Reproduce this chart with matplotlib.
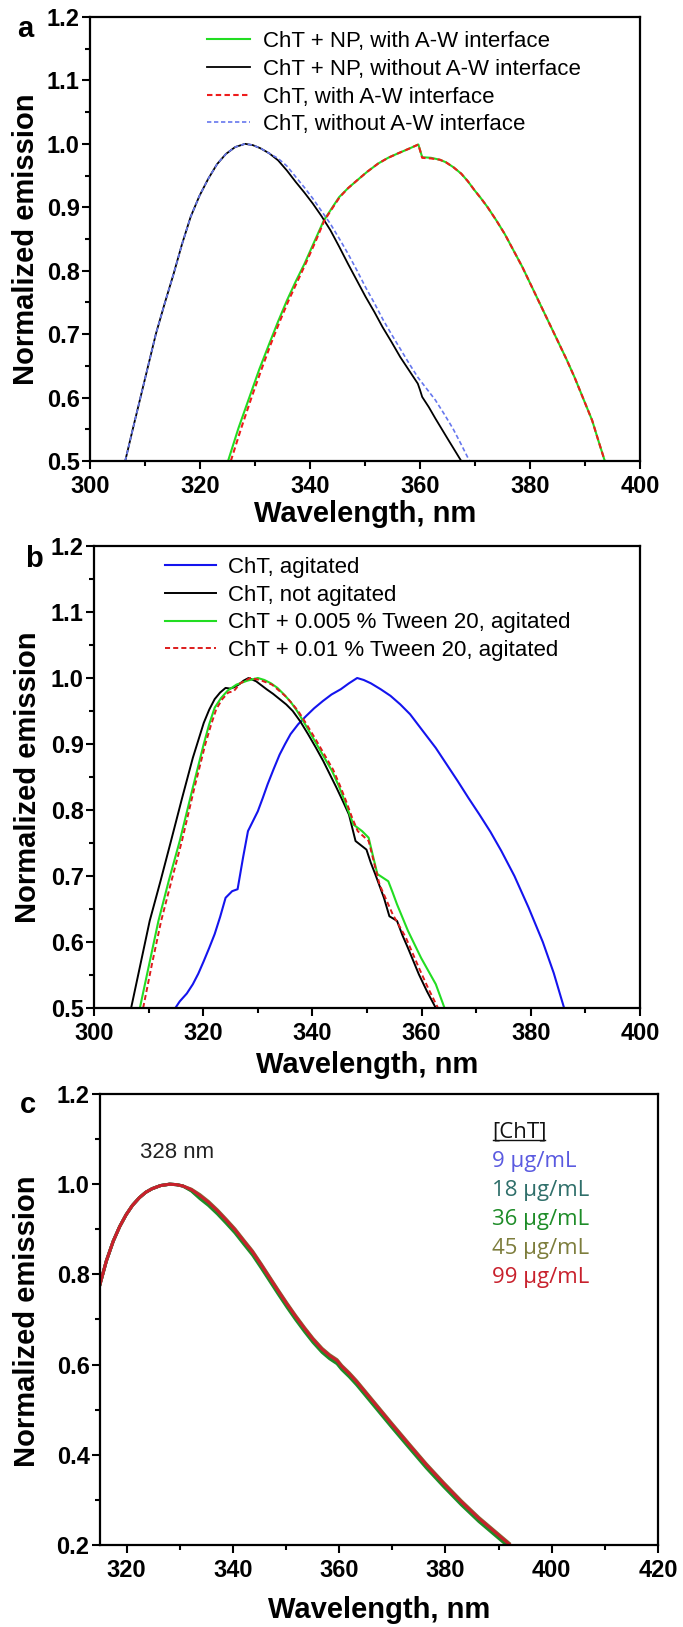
import numpy as np
import matplotlib
matplotlib.use('Agg')
import matplotlib.pyplot as plt
from matplotlib.lines import Line2D
from matplotlib.ticker import MultipleLocator, FormatStrFormatter

plt.rcParams['font.family'] = ['Liberation Sans', 'DejaVu Sans']

# ---- panel a : ChT with / without nanoparticles at the air-water interface
a_labels = ['ChT + NP, with A-W interface', 'ChT + NP, without A-W interface',
            'ChT, with A-W interface', 'ChT, without A-W interface']

a_np_aw_wl = [325.1, 327.0, 329.0, 330.8, 332.6, 334.2, 335.8, 337.4, 339.0, 340.8,
              342.5, 344.0, 345.3, 346.9, 348.5, 350.4, 352.4, 354.2, 356.0, 357.9,
              359.7, 360.4, 362.0, 363.6, 364.7, 366.1, 367.5, 368.7, 369.9, 371.1,
              372.3, 373.9, 375.4, 377.0, 378.6, 380.2, 381.8, 383.4, 385.0, 386.6,
              388.1, 389.7, 391.3, 392.4, 393.6]
a_np_aw_y = [0.50, 0.552, 0.601, 0.645, 0.685, 0.720, 0.753, 0.783, 0.811, 0.846,
             0.879, 0.899, 0.916, 0.930, 0.942, 0.956, 0.969, 0.978, 0.985, 0.992,
             0.999, 0.979, 0.978, 0.975, 0.971, 0.963, 0.953, 0.941, 0.927, 0.914,
             0.900, 0.879, 0.858, 0.832, 0.806, 0.777, 0.748, 0.719, 0.690, 0.661,
             0.632, 0.598, 0.564, 0.533, 0.50]

a_aw_wl = [325.6, 327.5, 329.4, 331.2, 332.9, 334.5, 336.1, 337.7, 339.2, 341.0,
           342.6, 344.1, 345.4, 346.9, 348.5, 350.4, 352.4, 354.2, 356.0, 357.9,
           359.7, 360.4, 362.0, 363.6, 364.7, 366.1, 367.5, 368.7, 369.9, 371.1,
           372.3, 373.9, 375.4, 377.0, 378.6, 380.2, 381.8, 383.4, 385.0, 386.6,
           388.1, 389.7, 391.3, 392.4, 393.6]
a_aw_y = [0.50, 0.552, 0.601, 0.645, 0.685, 0.720, 0.753, 0.783, 0.811, 0.846,
          0.879, 0.899, 0.916, 0.930, 0.942, 0.956, 0.969, 0.978, 0.985, 0.992,
          0.999, 0.978, 0.977, 0.975, 0.971, 0.963, 0.953, 0.941, 0.927, 0.914,
          0.900, 0.879, 0.858, 0.832, 0.806, 0.777, 0.748, 0.719, 0.690, 0.661,
          0.632, 0.598, 0.564, 0.533, 0.50]

a_np_wl = [306.4, 307.8, 309.2, 310.6, 312.0, 313.6, 315.2, 316.7, 318.3, 319.9,
           321.5, 323.1, 324.7, 326.4, 328.2, 329.6, 331.0, 332.6, 334.2, 335.8,
           337.4, 339.0, 340.5, 342.1, 343.7, 345.3, 346.9, 348.5, 350.1, 351.7,
           353.2, 354.8, 356.4, 358.0, 359.6, 360.0, 360.4, 361.6, 362.8, 365.1, 367.5]
a_np_y = [0.50, 0.551, 0.601, 0.651, 0.701, 0.749, 0.795, 0.841, 0.885, 0.918,
          0.945, 0.968, 0.984, 0.995, 1.000, 0.998, 0.993, 0.985, 0.974, 0.958,
          0.940, 0.923, 0.906, 0.886, 0.864, 0.838, 0.811, 0.785, 0.759, 0.735,
          0.711, 0.688, 0.664, 0.643, 0.622, 0.612, 0.601, 0.585, 0.567, 0.534, 0.50]

a_ref_wl = [306.4, 307.8, 309.2, 310.6, 312.0, 313.6, 315.2, 316.7, 318.3, 319.9,
            321.5, 323.1, 324.7, 326.4, 328.2, 329.6, 331.0, 332.6, 334.2, 335.8,
            337.4, 339.0, 340.5, 342.1, 343.7, 345.3, 346.9, 348.5, 350.1, 351.7,
            353.2, 354.8, 356.4, 358.0, 359.6, 361.2, 362.8, 364.4, 366.0, 367.5, 369.0]
a_ref_y = [0.50, 0.551, 0.601, 0.651, 0.701, 0.749, 0.795, 0.841, 0.885, 0.918,
           0.945, 0.968, 0.984, 0.995, 1.000, 0.998, 0.993, 0.985, 0.977, 0.965,
           0.948, 0.931, 0.914, 0.894, 0.874, 0.851, 0.827, 0.801, 0.774, 0.749,
           0.724, 0.700, 0.677, 0.654, 0.632, 0.614, 0.596, 0.574, 0.551, 0.526, 0.50]

# ---- panel b : agitation and Tween 20
b_labels = ['ChT, agitated', 'ChT, not agitated',
            'ChT + 0.005 % Tween 20, agitated', 'ChT + 0.01 % Tween 20, agitated']

b_ag_wl = [314.9, 315.7, 317.0, 318.1, 319.1, 320.1, 321.1, 322.1, 323.1, 324.1,
           325.3, 326.3, 327.3, 328.2, 329.1, 330.0, 330.9, 331.8, 332.9, 334.0,
           335.0, 336.0, 337.4, 338.8, 340.3, 341.9, 343.5, 345.2, 346.7, 348.2,
           349.4, 350.7, 352.5, 354.3, 356.1, 357.9, 360.2, 362.6, 364.6, 366.6,
           368.6, 370.6, 372.6, 374.6, 377.0, 379.6, 382.2, 384.2, 386.1]
b_ag_y = [0.50, 0.51, 0.522, 0.536, 0.552, 0.571, 0.591, 0.612, 0.638, 0.667,
          0.677, 0.680, 0.728, 0.768, 0.783, 0.798, 0.818, 0.839, 0.862, 0.884,
          0.900, 0.915, 0.930, 0.942, 0.954, 0.965, 0.975, 0.983, 0.992, 1.000,
          0.997, 0.992, 0.983, 0.973, 0.960, 0.945, 0.920, 0.894, 0.869, 0.844,
          0.818, 0.793, 0.767, 0.738, 0.700, 0.652, 0.600, 0.553, 0.50]

b_nag_wl = [306.8, 308.5, 310.2, 312.2, 314.1, 316.1, 318.1, 320.1, 321.1, 322.1,
            323.1, 324.1, 324.9, 325.7, 326.5, 327.4, 328.3, 329.7, 331.6, 332.8,
            334.0, 335.2, 336.4, 337.8, 339.2, 340.6, 342.0, 343.2, 344.4, 345.6,
            346.7, 347.9, 349.9, 350.7, 351.5, 353.1, 354.1, 355.5, 356.5, 357.5,
            359.5, 361.0, 362.6]
b_nag_y = [0.50, 0.566, 0.632, 0.693, 0.753, 0.817, 0.879, 0.932, 0.952, 0.968,
           0.978, 0.985, 0.984, 0.986, 0.990, 0.996, 1.000, 0.995, 0.983, 0.976,
           0.968, 0.960, 0.950, 0.934, 0.915, 0.895, 0.874, 0.854, 0.834, 0.813,
           0.793, 0.753, 0.740, 0.720, 0.703, 0.667, 0.639, 0.632, 0.610, 0.591,
           0.551, 0.525, 0.50]

b_tw5_wl = [308.4, 310.1, 311.8, 313.7, 315.7, 318.1, 320.1, 321.1, 322.1, 323.3,
            324.5, 326.1, 328.1, 330.0, 331.2, 332.4, 333.6, 334.8, 336.0, 337.2,
            338.8, 340.4, 342.0, 343.6, 344.8, 345.9, 346.7, 347.5, 349.1, 350.3,
            351.1, 351.9, 353.9, 354.7, 355.5, 357.5, 359.9, 362.6, 364.2]
b_tw5_y = [0.50, 0.566, 0.632, 0.693, 0.753, 0.834, 0.900, 0.930, 0.955, 0.970,
           0.981, 0.990, 0.996, 1.000, 0.997, 0.992, 0.985, 0.975, 0.964, 0.950,
           0.928, 0.905, 0.882, 0.859, 0.837, 0.814, 0.796, 0.778, 0.768, 0.758,
           0.730, 0.703, 0.692, 0.675, 0.657, 0.617, 0.576, 0.536, 0.50]

b_tw10_wl = [309.0, 310.6, 312.3, 314.2, 316.1, 318.4, 320.4, 321.4, 322.4, 323.5,
             324.6, 325.6, 326.8, 328.6, 330.4, 332.6, 335.0, 336.2, 337.4, 339.0,
             340.6, 342.2, 343.8, 345.0, 346.1, 347.2, 348.3, 350.3, 351.3, 352.3,
             354.7, 357.1, 359.5, 361.2, 363.0]
b_tw10_y = [0.50, 0.566, 0.632, 0.693, 0.753, 0.834, 0.900, 0.928, 0.953, 0.968,
            0.978, 0.980, 0.992, 1.000, 0.997, 0.990, 0.973, 0.962, 0.950, 0.929,
            0.907, 0.884, 0.861, 0.838, 0.815, 0.790, 0.768, 0.753, 0.720, 0.687,
            0.642, 0.607, 0.561, 0.530, 0.50]

# ---- panel c : ChT concentration series
c_labels = ['9 \u03bcg/mL', '18 \u03bcg/mL', '36 \u03bcg/mL', '45 \u03bcg/mL', '99 \u03bcg/mL']
c_colors = ['#5a5ae0', '#2f6f6a', '#1e8c28', '#7d7d3c', '#c8202c']
c_wl = [315.0, 316.2, 317.5, 318.7, 319.9, 321.1, 322.4, 323.6, 324.8, 326.4,
        328.1, 329.4, 330.6, 332.2, 333.8, 335.4, 337.1, 338.7, 340.4, 342.0,
        343.7, 345.3, 346.9, 348.5, 350.2, 351.8, 353.5, 355.1, 356.8, 358.2,
        359.6, 360.5, 361.9, 363.3, 366.6, 369.9, 373.2, 376.4, 379.7, 383.0,
        386.3, 389.2, 392.0]
# rising flank is common to all five concentrations
c_rise = [0.778, 0.830, 0.874, 0.906, 0.932, 0.953, 0.970, 0.982, 0.990, 0.997,
          1.000, 0.999]
c_fall_9 = [0.996, 0.987, 0.973, 0.958, 0.939, 0.919, 0.897, 0.873, 0.848, 0.820,
            0.791, 0.762, 0.732, 0.705, 0.678, 0.654, 0.632, 0.618, 0.607, 0.594,
            0.578, 0.560, 0.513, 0.466, 0.420, 0.376, 0.334, 0.294, 0.257, 0.228, 0.200]
c_fall_18 = [0.996, 0.986, 0.971, 0.956, 0.937, 0.917, 0.895, 0.871, 0.846, 0.818,
             0.789, 0.760, 0.730, 0.703, 0.676, 0.652, 0.630, 0.616, 0.605, 0.592,
             0.576, 0.558, 0.511, 0.464, 0.418, 0.374, 0.332, 0.292, 0.255, 0.226, 0.198]
c_fall_36 = [0.996, 0.985, 0.968, 0.953, 0.934, 0.914, 0.892, 0.868, 0.843, 0.815,
             0.786, 0.757, 0.727, 0.700, 0.673, 0.649, 0.627, 0.613, 0.602, 0.589,
             0.573, 0.555, 0.508, 0.461, 0.415, 0.371, 0.329, 0.289, 0.252, 0.223, 0.195]
c_fall_45 = [0.996, 0.989, 0.977, 0.962, 0.943, 0.923, 0.901, 0.877, 0.852, 0.824,
             0.795, 0.766, 0.736, 0.709, 0.682, 0.658, 0.636, 0.622, 0.611, 0.598,
             0.582, 0.564, 0.517, 0.470, 0.424, 0.380, 0.338, 0.298, 0.261, 0.232, 0.204]
c_fall_99 = [0.996, 0.988, 0.975, 0.960, 0.941, 0.921, 0.899, 0.875, 0.850, 0.822,
             0.793, 0.764, 0.734, 0.707, 0.680, 0.656, 0.634, 0.620, 0.609, 0.596,
             0.580, 0.562, 0.515, 0.468, 0.422, 0.378, 0.336, 0.296, 0.259, 0.230, 0.202]

W, H = 683, 1627
fig = plt.figure(figsize=(W / 100, H / 100), dpi=100)


def px_axes(l, t, r, b):
    return fig.add_axes([l / W, 1 - b / H, (r - l) / W, (b - t) / H])


def style_axes(ax):
    for s in ax.spines.values():
        s.set_linewidth(1.6)
    ax.tick_params(which='both', direction='out', top=False, right=False, width=1.5)
    ax.tick_params(which='major', length=6, pad=4, labelsize=17)
    ax.tick_params(which='minor', length=3.3)
    for lab in ax.get_xticklabels() + ax.get_yticklabels():
        lab.set_fontweight('bold')
    ax.tick_params(axis='y', pad=1.5)


dash = (0, (2.6, 1.6))
lab_font = dict(fontsize=21, fontweight='bold')
leg_kw = dict(loc='upper left', frameon=False, fontsize=16, handletextpad=0.55,
              labelspacing=0.3, borderpad=0, borderaxespad=0)

# panel a
ax = px_axes(90, 17, 640, 461)
ax.plot(a_np_aw_wl, a_np_aw_y, color='#22dd22', lw=1.5, label=a_labels[0])
ax.plot(a_np_wl, a_np_y, color='black', lw=1.3, label=a_labels[1])
ax.plot(a_aw_wl, a_aw_y, color='#ee1c1c', lw=1.5, ls=dash, label=a_labels[2])
ax.plot(a_ref_wl, a_ref_y, color='#6677ee', lw=1.2, ls=dash, label=a_labels[3])
ax.set_xlim(300, 400)
ax.set_ylim(0.5, 1.2)
ax.xaxis.set_major_locator(MultipleLocator(20))
ax.xaxis.set_minor_locator(MultipleLocator(10))
ax.yaxis.set_major_locator(MultipleLocator(0.1))
ax.yaxis.set_minor_locator(MultipleLocator(0.05))
ax.yaxis.set_major_formatter(FormatStrFormatter('%.1f'))
style_axes(ax)
ax.legend(bbox_to_anchor=(0.2127, 0.968), handlelength=1.95, **leg_kw)
fig.text(17 / W, 1 - 37 / H, 'a', fontsize=21, fontweight='bold', va='baseline')
fig.text(26 / W, 1 - 239 / H, 'Normalized emission', rotation=90, ha='center', va='center', **lab_font)
fig.text(365 / W, 1 - 522 / H, 'Wavelength, nm', ha='center', va='baseline', **lab_font)

# panel b
ax = px_axes(94, 546, 640, 1008)
ax.plot(b_ag_wl, b_ag_y, color='#1414ee', lw=1.5, label=b_labels[0])
ax.plot(b_nag_wl, b_nag_y, color='black', lw=1.4, label=b_labels[1])
ax.plot(b_tw5_wl, b_tw5_y, color='#22dd22', lw=1.5, label=b_labels[2])
ax.plot(b_tw10_wl, b_tw10_y, color='#dd1c1c', lw=1.4, ls=dash, label=b_labels[3])
ax.set_xlim(300, 400)
ax.set_ylim(0.5, 1.2)
ax.xaxis.set_major_locator(MultipleLocator(20))
ax.xaxis.set_minor_locator(MultipleLocator(10))
ax.yaxis.set_major_locator(MultipleLocator(0.1))
ax.yaxis.set_minor_locator(MultipleLocator(0.05))
ax.yaxis.set_major_formatter(FormatStrFormatter('%.1f'))
style_axes(ax)
ax.legend(bbox_to_anchor=(0.130, 0.976), handlelength=2.3, **leg_kw)
fig.text(25 / W, 1 - 567 / H, 'b', fontsize=21, fontweight='bold', va='baseline')
fig.text(28 / W, 1 - 777 / H, 'Normalized emission', rotation=90, ha='center', va='center', **lab_font)
fig.text(367 / W, 1 - 1073 / H, 'Wavelength, nm', ha='center', va='baseline', **lab_font)

# panel c
ax = px_axes(100, 1094, 658, 1545)
for fall, col in zip([c_fall_9, c_fall_18, c_fall_36, c_fall_45, c_fall_99], c_colors):
    ax.plot(c_wl, c_rise + fall, color=col, lw=2.2)
ax.set_xlim(315, 420)
ax.set_ylim(0.2, 1.2)
ax.xaxis.set_major_locator(MultipleLocator(20))
ax.xaxis.set_minor_locator(MultipleLocator(10))
ax.yaxis.set_major_locator(MultipleLocator(0.2))
ax.yaxis.set_minor_locator(MultipleLocator(0.1))
ax.yaxis.set_major_formatter(FormatStrFormatter('%.1f'))
style_axes(ax)
ax.text(0.0717, 1 - (1152 - 1094) / 451, '328 nm', fontsize=16, va='center', ha='left',
        color='#222222', transform=ax.transAxes)
step = 29.2 / 451
y0 = 1 - (1132 - 1094) / 451
head = ax.text(0.7025, y0, '[ChT]', fontsize=16, va='center', ha='left', color='#111111',
               family=['Open Sans', 'DejaVu Sans'], transform=ax.transAxes)
for i, (lab, col) in enumerate(zip(c_labels, c_colors)):
    ax.text(0.7025, y0 - (i + 1) * step, lab, fontsize=16, va='center', ha='left', color=col,
            family=['Open Sans', 'DejaVu Sans'], transform=ax.transAxes)
fig.text(20 / W, 1 - 1113 / H, 'c', fontsize=21, fontweight='bold', va='baseline')
fig.text(27 / W, 1 - 1321 / H, 'Normalized emission', rotation=90, ha='center', va='center', **lab_font)
fig.text(379 / W, 1 - 1618 / H, 'Wavelength, nm', ha='center', va='baseline', **lab_font)

# underline the [ChT] header
fig.canvas.draw()
bb = head.get_window_extent()
fig.add_artist(Line2D([bb.x0 + 1, bb.x1 - 1], [bb.y0 + 3, bb.y0 + 3], color='#111111', lw=1.0,
                      transform=None))

fig.savefig('out.png', dpi=100)
